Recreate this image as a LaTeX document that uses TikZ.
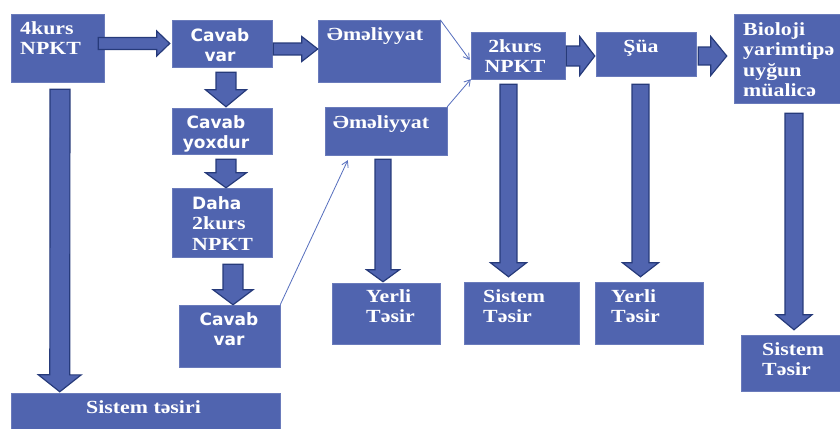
\documentclass[tikz,border=0pt]{standalone}
\usepackage{fontspec}
\usetikzlibrary{calc,fit,arrows.meta}
\newfontfamily\serifbold[FakeStretch=1.18]{Liberation Serif Bold}
\newfontfamily\sansbold{DejaVu Sans Bold}
\newcommand\serift{\serifbold\fontsize{15.8}{17.4}\selectfont}
\newcommand\sanst{\sansbold\fontsize{14.5}{17.4}\selectfont}
\newcommand\pxu{0.8504pt}
\definecolor{BoxBlue}{RGB}{80, 100, 175}
\definecolor{ArrowEdge}{RGB}{38, 58, 122}
\definecolor{LinkBlue}{RGB}{88, 112, 190}

\begin{document}
\begin{tikzpicture}[x=0.03cm, y=-0.03cm,
    box/.style={fill=BoxBlue, draw=BoxBlue!85!white, line width=0.4pt, inner sep=0pt},
    serifText/.style={inner sep=0pt, text=white, font=\serift},
    sansText/.style={inner sep=0pt, text=white, font=\sanst},
    link/.style={LinkBlue, line width=0.7pt, ->, >={Straight Barb[length=5pt, width=6pt]}},
    fat/.style n args={3}{draw=ArrowEdge, fill=BoxBlue, line width=1pt, line join=miter,
        to path={let \p1=(\tikztostart), \p2=(\tikztotarget),
            \n1={atan2(\y2-\y1,\x2-\x1)}, \n2={veclen(\x2-\x1,\y2-\y1)} in
            (\p1) ++(\n1+90:#1*\pxu) -- ++(\n1:{\n2-#3*\pxu}) -- ++(\n1+90:{(#2-#1)*\pxu})
            -- (\p2) -- ($(\p1)+(\n1:{\n2-#3*\pxu})+(\n1-90:#2*\pxu)$)
            -- ++(\n1+90:{(#2-#1)*\pxu}) -- ++(\n1+180:{\n2-#3*\pxu}) -- cycle}}]
    \useasboundingbox (0,0) rectangle (840,429);
    % boxes
    \foreach \name/\xa/\ya/\xb/\yb in {
        kurs4/11/14/104/82, cavab_a/172/20/272/67, emel_a/318/20/440/82,
        kurs2/471/32/565/79, shua/596/32/696/76, bio/734/14/840/103,
        yox/172/108/272/154, daha/172/188/272/257, cavab_b/179/305/280/367,
        emel_b/325/107/447/155, yerli_a/332/283/440/344, sistem_a/464/282/579/344,
        yerli_b/595/282/703/344, sistem_b/741/335/840/391, sistem_c/11/393/280/429} {
        \node[box, fit={(\xa,\ya) (\xb,\yb)}] (\name) {};
    }
    % block arrows
    \draw[fat={6}{12.5}{13}] ($(kurs4.east)+(-6,-4.5)$) to ($(cavab_a.west)+(-2,0)$);
    \draw[fat={6}{12.5}{16}] ($(cavab_a.east)+(1,5.5)$) to ($(emel_a.west)+(0,-2)$);
    \draw[fat={10}{19.5}{15}] ($(kurs2.east)+(1,0.5)$) to ($(shua.west)+(-1,2)$);
    \draw[fat={9}{19.5}{16}] ($(shua.east)+(2,2)$) to ($(bio.west)+(-7,-2.5)$);
    \draw[fat={10}{20.5}{17}] ($(cavab_a.south)+(4,5)$) to ($(yox.north)+(4,-1)$);
    \draw[fat={10}{20.5}{15}] ($(yox.south)+(4,5)$) to ($(daha.north)+(4,0)$);
    \draw[fat={10}{20}{15}] ($(daha.south)+(11,7)$) to ($(cavab_b.north)+(3.5,0)$);
    \draw[fat={10}{21.5}{17}] ($(kurs4.south)+(2.5,7)$) to ($(sistem_c.north west)+(49,-1)$);
    \draw[fat={8}{16.5}{12}] ($(emel_b.south)+(-3,4)$) to ($(yerli_a.north)+(-3,-1)$);
    \draw[fat={8.5}{18}{14}] ($(kurs2.south)+(-9.5,5)$) to ($(sistem_a.north)+(-13,-5)$);
    \draw[fat={8.5}{18}{14}] ($(shua.south)+(-5.5,8)$) to ($(yerli_b.north)+(-8.5,-5)$);
    \draw[fat={9}{18}{15}] ($(bio.south)+(7,10)$) to ($(sistem_b.north)+(3.5,-5)$);
    % thin links
    \draw[link] (emel_a.north east) -- ($(kurs2.west)+(-1,4.5)$);
    \draw[link] (emel_b.north east) -- (kurs2.south west);
    \draw[link] (cavab_b.north east) -- ($(emel_b.south west)+(23,5)$);
    % texts
    \node[serifText, anchor=north west, align=left] (kurs4_t) at (20,21.3) {4kurs\\NPKT};
    \node[sansText, anchor=north, align=center] (cavab_a_t) at (220,28.1) {Cavab\\var};
    \node[serifText, anchor=north] (emel_a_t) at (375,27.3) {Əməliyyat};
    \node[serifText, anchor=north, align=center] (kurs2_t) at (515,39.3) {2kurs\\NPKT};
    \node[serifText, anchor=north] (shua_t) at (641,39.6) {Şüa};
    \node[serifText, anchor=north west, align=left] (bio_t) at (743,22.3) {Bioloji\\yarimtipə\\uyğun\\müalicə};
    \node[sansText, anchor=north, align=center] (yox_t) at (216,115.1) {Cavab\\yoxdur};
    \node[serifText, anchor=north west, align=left] (daha_t) at (192,196.1) {{\sanst Daha}\\2kurs\\NPKT};
    \node[sansText, anchor=north, align=center] (cavab_b_t) at (229,312.1) {Cavab\\var};
    \node[serifText, anchor=north] (emel_b_t) at (381,115.3) {Əməliyyat};
    \node[serifText, anchor=north west, align=left] (yerli_a_t) at (366,289.3) {Yerli\\Təsir};
    \node[serifText, anchor=north west, align=left] (sistem_a_t) at (483,289.3) {Sistem\\Təsir};
    \node[serifText, anchor=north west, align=left] (yerli_b_t) at (611,289.3) {Yerli\\Təsir};
    \node[serifText, anchor=north west, align=left] (sistem_b_t) at (762,342.3) {Sistem\\Təsir};
    \node[serifText, anchor=north] (sistem_c_t) at (143.5,400.3) {Sistem təsiri};
\end{tikzpicture}
\end{document}
